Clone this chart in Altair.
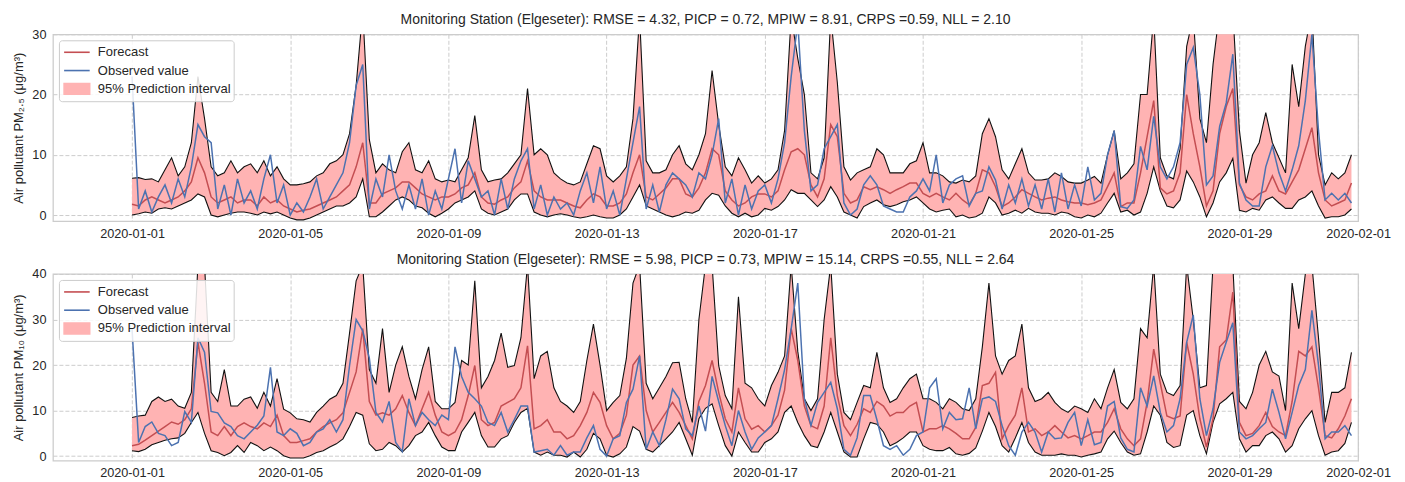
import altair as alt
import pandas as pd

# ---------------- data (4-hourly readings, 2020-01-01 00:00 .. 2020-01-31 20:00) ----------------
times = pd.date_range("2020-01-01", periods=186, freq="4h")

series_names = ["Forecast", "Observed value", "95% Prediction interval"]
series_colors = ["#c44e52", "#4c72b0", "#ffb3b3"]

pm25_title = "Monitoring Station (Elgeseter): RMSE = 4.32, PICP = 0.72, MPIW = 8.91, CRPS =0.59, NLL = 2.10"
pm10_title = "Monitoring Station (Elgeseter): RMSE = 5.98, PICP = 0.73, MPIW = 15.14, CRPS =0.55, NLL = 2.64"
pm25_ylabel = "Air pollutant PM\u2082.\u2085 (\u03bcg/m\u00b3)"
pm10_ylabel = "Air pollutant PM\u2081\u2080 (\u03bcg/m\u00b3)"
pm25_yticks = [0, 5, 10, 15, 20, 25, 30]
pm10_yticks = [0, 10, 20, 30, 40]
x_tick_days = [1, 5, 9, 13, 17, 21, 25, 29]

pm25_upper = [
    6.1, 6.2, 5.9, 6.0, 5.5, 7.5,
    9.5, 6.5, 8, 12, 23, 16,
    8, 6.5, 7, 9, 7, 8,
    8.5, 7, 9, 6.5, 8, 6,
    5, 5, 5.2, 5.5, 6.5, 7,
    8.5, 9, 10, 13.5, 21.5, 34,
    12.5, 7, 8.5, 7.5, 7, 10.5,
    12, 7.5, 7, 9, 6, 5.5,
    5.8, 5.5, 7.5, 9.5, 16.5, 7.5,
    5.5, 5.8, 6, 7, 8.5, 10,
    21, 10, 11, 10, 7, 6,
    5.3, 5, 5.5, 8.5, 11.5, 11,
    6.5, 5.5, 6.5, 8, 16, 33,
    9, 7, 7, 7.5, 10, 11.5,
    8.5, 7.5, 10, 13.5, 24, 15,
    8, 6.5, 9.5, 7.5, 5.3, 6.5,
    5.3, 6, 7.5, 14, 33, 26,
    20, 7, 6, 9.5, 33, 22,
    8, 5.8, 7, 7.5, 8, 11,
    10, 7, 7, 7, 8.5, 9,
    12, 7, 7, 6.5, 5.5, 5.3,
    5.8, 5.5, 6.5, 13.5, 16, 13,
    7.5, 6, 8.5, 11, 7, 5.8,
    5.8, 6, 7, 6.4, 5.5, 5.3,
    5.3, 5.8, 6.4, 5.3, 10, 14,
    6, 7, 8.5, 20, 20, 33,
    9.5, 6.5, 6, 11, 28, 33,
    16, 12, 25, 34, 34, 34,
    14, 5.3, 10, 12, 17, 12,
    9.5, 7, 25, 18, 28, 34,
    10, 5, 7, 6, 7, 10,
]
pm25_lower = [
    0, 0.2, 0.5, 0.3, 1.0, 1.2,
    1.0, 1.5, 2.0, 2.5, 3.5, 3.0,
    0, -0.3, 0, 0.3, 0.5, 0.5,
    0.3, 0, 0.5, 0.2, 0.5, 0,
    -0.5, -0.8, -0.8, -0.5, 0, 0.5,
    1, 1.5, 1.5, 2, 3, 6,
    -0.3, -0.3, 0.5, 1.5, 2.5, 3,
    2.5, 1.5, 1.2, 0.3, -0.3, 0.3,
    1, 2, 2.5, 3, 4, 1,
    0.3, 0, 0.5, 1, 2.5, 3.5,
    3.5, 0.5, 0, -0.3, 0, 0.2,
    0, -0.3, -0.5, -0.3, 0, -0.3,
    -0.5, -0.5, 0, 1, 3, 5,
    1.5, 1, 0.5, 0, -0.3, 0,
    0.5, 0.3, 0.8, 2.5, 3.6, 3.3,
    1.5, 0.3, -0.3, 0.3, -0.3, 0,
    1.1, 0.8, 1.4, 2.5, 4.2, 3.6,
    3.6, 2.5, 1.4, 2.5, 4.7, 3,
    0.5, 0, -0.5, 1.4, 2, 2.5,
    1.7, 1.4, 1.7, 2.2, 2.5, 3,
    2, 1, 0.5, 0.8, 1, -0.3,
    0, -0.5, -0.3, 0.3, 3, 2,
    0, 0.3, 0.8, 0.3, 1.1, 0.5,
    0.3, 0.3, 0, 0.5, 0.3, -0.3,
    -0.5, 0, -0.3, 0.3, 2, 3.6,
    0.5, 0.8, 0, 0.5, 3.6, 8,
    4, 1.5, 1.2, 2.5, 7.3, 5.5,
    3, -0.3, 2, 5.5, 7, 9.4,
    0.8, 0.5, 1.1, 0.8, 2.5, 3,
    2, 1.1, 1.1, 2.5, 3, 4,
    1.5, -0.5, -0.3, -0.3, 0, 1,
]
pm25_forecast = [
    1.8, 1.5, 2.5, 3, 2.5, 2,
    2.5, 3, 4, 5.5, 9.5, 7,
    3, 2, 2.5, 3, 2, 2.5,
    2.5, 1.5, 3, 2, 2.5, 1.5,
    1, 0.5, 0.8, 1, 1.5, 2,
    2.5, 3, 4, 5, 8, 12,
    2, 2, 3.5, 4, 4.5, 5.5,
    5.5, 4.5, 3.5, 3, 2.5, 3,
    3, 3.5, 4.5, 5, 7, 3,
    2, 1.8, 2.5, 3, 4.5, 5.5,
    9, 4, 3, 2.5, 2.5, 2.5,
    2, 1.5, 1.2, 2.5, 3.5, 3,
    1.5, 1.5, 2, 3.5, 7, 10,
    3, 2.5, 3.5, 4.5, 6, 6,
    3.5, 3, 4.5, 7, 11, 10,
    4, 2.5, 1.5, 2, 3, 3.5,
    3.5, 3, 4, 7.5, 10.5, 11,
    10, 5, 3, 6, 15, 13,
    3.6, 2, 2.5, 4.7, 4.2, 4.7,
    4.2, 3.6, 4.2, 4.7, 5.3, 5.3,
    3.6, 3, 3.6, 3, 2.5, 3.6,
    2.5, 1.7, 3.6, 7.5, 7, 4.7,
    1.4, 2, 3, 4.2, 3.6, 3,
    2.5, 2.8, 3, 2.5, 2.2, 2,
    2, 1.7, 2, 2.5, 4.7, 7,
    1.4, 2, 2, 7, 13, 19,
    4.5, 3.5, 4, 7, 20, 13.5,
    8, 1.5, 4, 13.5, 18, 21,
    5, 3, 2.5, 3.5, 4, 6.5,
    4, 3.5, 5.5, 7.5, 11, 14.5,
    7, 2.5, 1.5, 2, 2.5, 5.3,
]
pm25_observed = [
    23, 1, 4, 0.5, 3, 5,
    2, 6, 3, 8, 15, 13,
    12, 1, 5, 0, 6, 2,
    4, 1, 6, 10, 2, 5,
    0, 2, 0.5, 3, 6, 1,
    3, 5, 7, 12, 21.5, 25,
    1, 6, 3, 10, 4, 1,
    5, 1, 6, 0, 4, 1,
    6, 11, 2, 9, 6, 3,
    4, 0, 6, 1, 6, 9,
    11, 1, 5, 0, 3, 1,
    2, 0, 4, 7, 2, 8,
    1, 4, 0, 6, 12, 18,
    1, 5, 0.5, 5, 7, 6,
    5, 3, 7, 6, 10, 16,
    2, 6, 0, 5, 1, 4,
    5, 2, 6, 12, 23, 32,
    14, 4, 5, 11, 13, 15,
    2, 0, 1, 5, 6.5, 5,
    1.5, 1, 0.5, 0.5, 3, 4,
    6, 4, 10, 2, 5, 6,
    6.5, 1.5, 3.6, 4, 8, 5.8,
    1, 5, 2, 6, 1.5, 5,
    1, 6, 0.5, 7, 1, 5,
    1.5, 8, 2.5, 3.6, 10, 14,
    1.4, 1.1, 2.5, 11.4, 7.5, 16.4,
    8, 6, 8, 12, 25, 27.8,
    20, 5, 6.5, 14.7, 18.6, 26.7,
    5.3, 2.5, 1.5, 1.5, 8, 11.5,
    7, 4, 7.5, 11.5, 19, 30,
    14, 2.5, 3.6, 2.5, 3.6, 2,
]

pm10_upper = [
    8.5, 8.8, 9.0, 12, 13, 12,
    12.5, 11, 10.5, 14, 42, 42,
    14, 12, 19, 11, 11, 12.5,
    13, 10.5, 14, 11, 17, 10.3,
    9.5, 8.2, 8, 7.5, 9.6, 11,
    12.5, 13.3, 16, 27, 38.5, 42,
    19, 16, 28, 14, 20, 24,
    17.5, 12.6, 19, 24, 12, 10.4,
    10.4, 11.8, 21, 20, 38.5, 15,
    17.5, 21, 27, 19.5, 19.9, 26,
    42, 17, 22, 23, 15, 12,
    11, 9.6, 12, 21, 29, 20,
    10, 11.8, 13.3, 21.5, 38, 42,
    16, 12.6, 15, 17.5, 20.5, 20.6,
    12.6, 7.4, 30, 42, 42, 19.9,
    13.3, 10.4, 35, 16, 15, 12.6,
    11, 15.5, 18.4, 22, 42, 23,
    12.6, 10, 12.6, 30, 42, 18,
    9.6, 8, 11.8, 15.5, 15, 22.8,
    15, 11.8, 12.6, 15, 17, 18,
    12.6, 12.6, 11.8, 10.4, 12.6, 11.8,
    10.4, 10, 12.6, 24, 38, 22,
    18, 21, 22, 29, 15, 12,
    12.6, 14, 11.8, 10.4, 9.6, 11,
    10.4, 9.6, 12.6, 10.4, 15, 19,
    11.8, 10.4, 12.6, 28, 26, 42,
    18, 14, 13.3, 15.5, 42, 30,
    15, 15.5, 42, 42, 42, 42,
    12, 10.4, 14, 20, 23, 18.5,
    17.6, 10, 38, 28, 40, 42,
    26, 7.4, 14, 14, 15, 22.8,
]
pm10_lower = [
    1.2, 1.0, 1.5, 2.5, 3, 3.5,
    3.8, 4, 5, 7.4, 9.6, 5,
    1.2, 0.8, 0.1, 0.8, 2.3, 0.8,
    3, 2.3, 1.2, 2, 1.2, 0.1,
    -0.4, -0.4, -0.4, 0.1, 0.8, 1.2,
    2, 2.7, 3.8, 6.5, 9.6, 9,
    2.7, 1.2, 1.5, 3, 2.3, 0.9,
    2.3, 4.5, 5.3, 7.4, 4.5, 2,
    1.2, 1.2, 5.3, 7.4, 9.6, 4.5,
    2, 2, 3.8, 4.5, 7.4, 9.6,
    10.5, 0.9, 0.2, 0.9, 0.2, 0.2,
    -0.2, 0.9, -0.2, 1.5, 5, 3.8,
    0.2, -0.2, 0.5, 2, 6.5, 5.5,
    1.5, 0.9, 2.3, 3.8, 5.3, 7.4,
    3.8, 0.2, 8.2, 10.5, 11.5, 6.7,
    2.3, 0, 5.3, 3, 0.9, 0.9,
    3, 3.8, 5.3, 9.6, 11, 7.4,
    4.5, 2.3, 1.9, 5.3, 9.6, 5.3,
    0.9, -0.2, -0.2, 3.8, 7.4, 7,
    5.3, 2.3, 3, 4, 5.3, 5.3,
    2.3, 1.5, 1.2, 1.2, 1.9, 0.5,
    0.2, 0.6, 1.8, 5.5, 9.6, 6.5,
    2.3, 0.9, 4, 7.4, 3, 0.9,
    0.2, 0.2, 0.2, 0.5, 0.2, 0.2,
    -0.2, 0.2, 0.5, 0.9, 3.8, 5.5,
    3, 0.9, 0.2, 0.5, 5.3, 11,
    9, 3, 1.9, 2.3, 9, 10,
    4.5, 0.5, 7.4, 11.5, 12.6, 14,
    3.8, 0.9, 2.3, 2.3, 4.5, 5.3,
    3.8, 0.9, 2.3, 6, 8.2, 10,
    4.5, 0.2, 0.9, 1.2, 2.8, 7.4,
]
pm10_forecast = [
    2.3, 2.6, 3.5, 4.5, 5.5, 6.5,
    7.5, 7, 8, 10.4, 25, 16,
    5.3, 4.5, 6.5, 4.5, 6.5, 7.3,
    6.5, 6, 7.3, 6.5, 9, 4.5,
    3, 3, 3.4, 3.8, 5.3, 6.5,
    7.3, 8, 9.5, 14, 18.5, 28,
    12, 9, 9.5, 9, 10.4, 13.3,
    9.6, 6.7, 10.4, 14, 9, 5.3,
    4.5, 5.3, 8, 13.3, 19.9, 8,
    6.7, 7.4, 11, 11.8, 12.6, 15,
    24.2, 6, 6.7, 8, 5.3, 5.3,
    3.8, 4.5, 6.7, 9.6, 14, 11.8,
    6.7, 3.8, 5, 9, 20, 22,
    10, 5.3, 7.4, 9.6, 11.8, 9.6,
    6.7, 3.8, 12, 15.5, 21, 14,
    8.2, 5.3, 15, 8.2, 5.9, 6.7,
    5.3, 6.7, 9, 14.5, 28, 21,
    11, 6.7, 6, 11, 26, 13.3,
    6.7, 4.5, 7, 10.4, 9.6, 12,
    11, 8.8, 9.6, 9.6, 11, 11.8,
    5.3, 6, 6, 6.7, 6, 5,
    3.8, 3.8, 6.3, 15.5, 16, 18.4,
    3.8, 6.7, 9, 15, 5.3, 6,
    4.5, 5.3, 6.7, 5.3, 4, 4.5,
    3.8, 4.5, 5.3, 5.3, 7.4, 10.4,
    6, 3.8, 2.3, 3.8, 11.8, 23.5,
    16, 8.8, 8.2, 8.8, 25, 18,
    8.2, 2, 8.2, 24, 25.5, 36,
    7.4, 4.5, 5, 6.7, 9.6, 6.5,
    5.3, 4.5, 12, 23, 22, 24,
    15, 4.5, 4, 6, 8.8, 12.6,
]
pm10_observed = [
    28, 3, 6.5, 7.5, 5, 4.5,
    2.3, 3, 9.8, 7.4, 26, 22.8,
    9.8, 9.5, 7.3, 6.5, 4.5, 3.8,
    5.3, 6.8, 8.8, 19.5, 5.3, 4.5,
    6, 5, 2.3, 3, 5.3, 6,
    8, 5.3, 8, 19.9, 30, 27.5,
    21.5, 9.6, 7.5, 12, 3, 1,
    12.6, 6.7, 9.6, 8, 6.7, 9,
    8, 24, 17.5, 14, 12.6, 11,
    7.4, 6.7, 9.6, 5.3, 8, 11,
    11, 0.9, 1.2, 1.5, 0.2, 2.3,
    0.2, 0.9, 0.9, 4, 6.7, 1.5,
    0, 3.8, 4.5, 11.8, 14.7, 22,
    1.5, 5.3, 2.3, 8, 14.7, 12.6,
    6, 4.5, 11, 5.5, 17.5, 12,
    6.7, 2.3, 10, 5.3, 1.5, 4,
    5.3, 6.7, 12.6, 19, 28, 38,
    12.6, 6.7, 11.8, 14, 16.2, 10.4,
    1.5, 0.2, 4, 13.3, 13.3, 8,
    2.3, 1.5, 2.3, 0.2, 1.5, 4.5,
    5.3, 15, 17, 6, 9.6, 8,
    8.2, 15, 6, 12.6, 13, 12,
    6.7, 2.3, 0.2, 5.3, 7.4, 5.3,
    0.9, 5.3, 3.8, 4, 7.4, 9.6,
    2.3, 8, 2.5, 3, 11, 12,
    4, 1.5, 0.9, 15, 11, 17.6,
    9.6, 5.3, 6.7, 12.6, 25, 31,
    12.6, 4.5, 10.4, 20.6, 25, 29.3,
    5.3, 3.8, 4.5, 6, 7.4, 14.7,
    9.6, 3.8, 9.6, 15.5, 19, 32,
    20, 3.8, 5.3, 5.3, 6.7, 4.5,
]

# ---------------- styling ----------------
FONT = "Liberation Sans"
TXT = "#262626"
GRID = "#cccccc"
W, H = 1307, 187

line_sym = "M-1.6,0H1.6"
rect_sym = "M-1.6,-0.67H1.6V0.67H-1.6Z"


def panel(upper, lower, forecast, observed, ymax, yticks, ylabel, title):
    df = pd.DataFrame({"time": times, "upper": upper, "lower": lower,
                       "forecast": forecast, "observed": observed})
    xscale = alt.Scale(domain=[alt.DateTime(year=2019, month=12, date=30),
                               alt.DateTime(year=2020, month=2, date=1)], nice=False)
    xaxis = alt.Axis(title=None, format="%Y-%m-%d",
                     values=[alt.DateTime(year=2020, month=1, date=d) for d in x_tick_days]
                     + [alt.DateTime(year=2020, month=2, date=1)],
                     labelFlush=False, labelOverlap=False)
    yscale = alt.Scale(domain=[-1, ymax], nice=False, zero=False)
    yaxis = alt.Axis(title=ylabel, values=yticks)
    x = alt.X("time:T", scale=xscale, axis=xaxis)
    base = alt.Chart(df)
    band = base.mark_area(color="#ffb3b3", clip=True).encode(
        x=x, y=alt.Y("lower:Q", scale=yscale, axis=yaxis), y2="upper:Q")
    up = base.mark_line(color="#111111", strokeWidth=1.1, clip=True).encode(x=x, y="upper:Q")
    lo = base.mark_line(color="#111111", strokeWidth=1.1, clip=True).encode(x=x, y="lower:Q")
    fc = base.mark_line(color="#c44e52", strokeWidth=1.5, clip=True).encode(x=x, y="forecast:Q")
    ob = base.mark_line(color="#4c72b0", strokeWidth=1.5, clip=True).encode(x=x, y="observed:Q")

    leg_df = pd.DataFrame({"series": series_names, "time": [None] * 3, "v": [None] * 3})
    leg_kw = dict(title=None, orient="top-left", offset=6, padding=3,
                  fillColor="rgba(255,255,255,0.85)", strokeColor=GRID, cornerRadius=3,
                  symbolSize=256, symbolStrokeWidth=1.6, symbolOffset=6,
                  labelOffset=12, rowPadding=2.3, labelFont=FONT, labelFontSize=13,
                  labelColor=TXT, symbolOpacity=1)
    legend_layer = alt.Chart(leg_df).mark_point(opacity=1, clip=True).encode(
        x=x, y=alt.Y("v:Q", scale=yscale),
        stroke=alt.Stroke("series:N", scale=alt.Scale(domain=series_names, range=series_colors),
                          legend=alt.Legend(**leg_kw)),
        fill=alt.Fill("series:N", scale=alt.Scale(domain=series_names,
                                                  range=["transparent", "transparent", "#ffb3b3"]),
                      legend=alt.Legend(**leg_kw)),
        shape=alt.Shape("series:N", scale=alt.Scale(domain=series_names,
                                                    range=[line_sym, line_sym, rect_sym]),
                        legend=alt.Legend(**leg_kw)),
    )
    return alt.layer(band, up, lo, fc, ob, legend_layer).properties(
        width=W, height=H,
        title=alt.TitleParams(title, font=FONT, fontSize=14, fontWeight="normal",
                              color=TXT, offset=1, anchor="middle"))


top = panel(pm25_upper, pm25_lower, pm25_forecast, pm25_observed, 30, pm25_yticks,
            pm25_ylabel, pm25_title)
bottom = panel(pm10_upper, pm10_lower, pm10_forecast, pm10_observed, 40, pm10_yticks,
               pm10_ylabel, pm10_title)

chart = alt.vconcat(top, bottom, spacing=11).resolve_scale(
    x="independent", y="independent", stroke="independent", fill="independent",
    shape="independent").resolve_legend(
    stroke="independent", fill="independent", shape="independent").properties(
    padding={"left": 4, "top": 4, "right": 5, "bottom": 2}
).configure_view(stroke=GRID, strokeWidth=1.25).configure_axis(
    grid=True, gridColor=GRID, gridDash=[4, 2], gridWidth=1, domain=False, ticks=False,
    labelFont=FONT, labelFontSize=12.7, labelColor=TXT, labelPadding=7,
    titleFont=FONT, titleFontSize=13, titleColor=TXT, titleFontWeight="normal", titlePadding=6,
).configure_axisX(labelPadding=6)

chart.save("out.html", embed_options={"renderer": "svg", "actions": False})
